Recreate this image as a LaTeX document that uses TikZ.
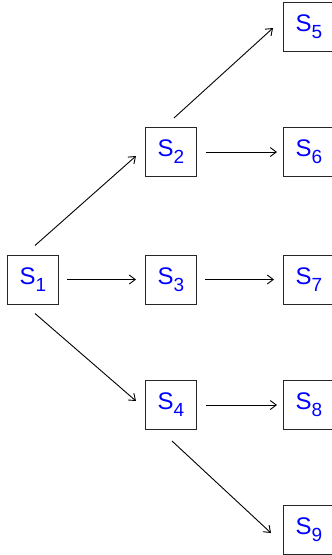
\documentclass[tikz,border=0pt]{standalone}
\usepackage{fontspec}
\setmainfont{Liberation Sans}
\usetikzlibrary{arrows.meta}
\begin{document}
\begin{tikzpicture}[x=1pt,y=-1pt,
  box/.style={draw=black!85,line width=1pt,minimum width=51pt,minimum height=49pt,inner sep=0pt,text=blue,font=\fontsize{24}{24}\selectfont},
  arr/.style={line width=0.9pt,-{Straight Barb[length=6pt,width=9pt,line width=0.9pt]}}]
\useasboundingbox (0,0) rectangle (332,555);
\newcommand{\lab}[1]{S\raisebox{-7pt}{\fontsize{19}{19}\selectfont #1}}
\node[box] (s1) at (33,279.5) {\lab{1}};
\node[box] (s2) at (171,152) {\lab{2}};
\node[box] (s3) at (171,279.5) {\lab{3}};
\node[box] (s4) at (171,405) {\lab{4}};
\node[box] (s5) at (309,27) {\lab{5}};
\node[box] (s6) at (309,152) {\lab{6}};
\node[box] (s7) at (309,279.5) {\lab{7}};
\node[box] (s8) at (309,405) {\lab{8}};
\node[box] (s9) at (309,530) {\lab{9}};
\draw[arr] ([shift={(2pt,9pt)}]s1.north) -- ([shift={(-9pt,-4pt)}]s2.west);
\draw[arr] ([xshift=8pt]s1.east) -- ([xshift=-9pt]s3.west);
\draw[arr] ([shift={(2pt,-9pt)}]s1.south) -- ([shift={(-9pt,4pt)}]s4.west);
\draw[arr] ([shift={(3pt,9pt)}]s2.north) -- ([shift={(-10pt,-1pt)}]s5.west);
\draw[arr] ([xshift=9pt]s2.east) -- ([xshift=-6pt]s6.west);
\draw[arr] ([xshift=8pt]s3.east) -- ([xshift=-9pt]s7.west);
\draw[arr] ([xshift=9pt]s4.east) -- ([xshift=-6pt]s8.west);
\draw[arr] ([shift={(1pt,-11pt)}]s4.south) -- ([shift={(-12pt,-3pt)}]s9.west);
\end{tikzpicture}
\end{document}
